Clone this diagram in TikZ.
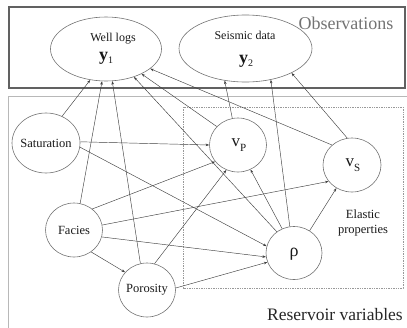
\documentclass[tikz,border=0pt]{standalone}
\usepackage{fontspec}
\setmainfont{Liberation Serif}
\usetikzlibrary{arrows.meta,shapes.geometric}
\begin{document}
\begin{tikzpicture}[x=1pt,y=-1pt,
  var/.style={ellipse,draw=black!55,line width=0.6pt,inner sep=0pt},
  txt/.style={inner sep=0pt,text=black!90,font=\fontsize{12.5}{14}\selectfont},
  edge/.style={draw=black!75,line width=0.45pt,-{Stealth[length=3.6pt,width=2.6pt]}},
  bigtxt/.style={inner sep=0pt,font=\fontsize{18}{20}\selectfont}]
\useasboundingbox (0,0) rectangle (407,327);
\clip (0,0) rectangle (407,327);
% boxes
\draw[black!62,line width=1.9pt] (9,7) rectangle (405,88);
\draw[black!28,line width=0.8pt] (8,96.5) rectangle (420,340);
\draw[black!40,line width=0.6pt,dash pattern=on 1.4pt off 1pt] (183,107) rectangle (403,288);
% titles
\node[bigtxt,text=black!55] (obs) at (346,23) {Observations};
\node[bigtxt,text=black!85,font=\fontsize{17.5}{20}\selectfont] (res) at (335,315) {Reservoir variables};
% observation nodes
\node[var,minimum width=111,minimum height=64] (y1) at (106,49) {};
\node[txt,font=\fontsize{12}{14}\selectfont] (y1a) at (113,39) {Well logs};
\node[txt] (y1b) at (106,58) {{\fontsize{18}{18}\selectfont\bfseries y}\raisebox{-3pt}{\fontsize{10}{10}\selectfont 1}};
\node[var,minimum width=133,minimum height=67] (y2) at (245.5,48.5) {};
\node[txt,font=\fontsize{12}{14}\selectfont] (y2a) at (245,35) {Seismic data};
\node[txt] (y2b) at (246,61) {{\fontsize{18}{18}\selectfont\bfseries y}\raisebox{-3pt}{\fontsize{10}{10}\selectfont 2}};
% reservoir nodes
\node[var,minimum width=68,minimum height=60] (sat) at (46,143) {};
\node[txt] (satT) at (sat) {Saturation};
\node[var,minimum width=57,minimum height=54] (fac) at (74,230) {};
\node[txt] (facT) at (fac) {Facies};
\node[var,minimum width=57,minimum height=54] (por) at (147,290) {};
\node[txt] (porT) at (por) {Porosity};
\node[var,minimum width=57,minimum height=54] (vp) at (238,145) {};
\node[txt] (vpT) at (239,145) {{\fontsize{17}{17}\selectfont v}\raisebox{-5pt}{\fontsize{11}{11}\selectfont P}};
\node[var,minimum width=58,minimum height=54] (vs) at (352,165) {};
\node[txt] (vsT) at (353,165) {{\fontsize{17}{17}\selectfont v}\raisebox{-5pt}{\fontsize{11}{11}\selectfont S}};
\node[var,minimum width=56,minimum height=53] (rho) at (294,253) {};
\node[txt] (rhoT) at (294,254) {\fontsize{18}{18}\selectfont ρ};
\node[txt,align=center,font=\fontsize{12.5}{15}\selectfont] (ela) at (363,223) {Elastic\\properties};
% edges to y1
\draw[edge] (sat.59) -- (y1.243);
\draw[edge] (fac.77) -- (y1.263);
\draw[edge] (por.104) -- (y1.281);
\draw[edge] (rho.129) -- (y1.315);
\draw[edge] (vp.139) -- (y1.325);
\draw[edge] (vs.135) -- (y1.336);
% edges to y2
\draw[edge] (vp.102) -- (y2.237);
\draw[edge] (rho.99) -- (y2.309);
\draw[edge] (vs.100) -- (y2.332);
% internal edges
\draw[edge] (sat.2) -- (vp.180);
\draw[edge] (sat.353) -- (rho.166);
\draw[edge] (fac.49) -- (vp.216);
\draw[edge] (fac.10) -- (vs.215);
\draw[edge] (fac.346) -- (rho.188);
\draw[edge] (fac.308) -- (por.141);
\draw[edge] (por.74) -- (vp.245);
\draw[edge] (por.4) -- (rho.199);
\draw[edge] (rho.116) -- (vp.297);
\draw[edge] (rho.55) -- (vs.236);
\end{tikzpicture}
\end{document}
